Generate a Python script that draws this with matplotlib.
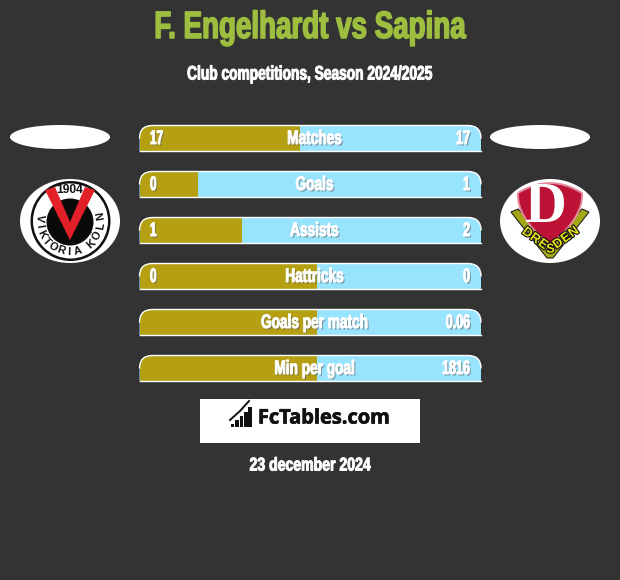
import numpy as np
import matplotlib
matplotlib.use("Agg")
import matplotlib.pyplot as plt
import matplotlib.patheffects as pe
from matplotlib.patches import Ellipse, PathPatch, Polygon, Rectangle, Circle
from matplotlib.path import Path
from matplotlib.transforms import Affine2D

# stats
categories = ["Matches", "Goals", "Assists", "Hattricks", "Goals per match", "Min per goal"]
left_labels = ["17", "0", "1", "0", "", ""]
right_labels = ["17", "1", "2", "0", "0.06", "1816"]
# share of each bar taken by the left player, in percent
left_share = [47, 17, 30, 52, 52, 52]

title = "F. Engelhardt vs Sapina"
subtitle = "Club competitions, Season 2024/2025"
date_label = "23 december 2024"
brand = "FcTables.com"

BG = "#333333"
GOLD = "#b5a014"
BLUE = "#98e4ff"
GREEN = "#9dbe3f"
FONT = "Liberation Sans"


def px(size):
    return size * 0.72


class Condensed(pe.AbstractPathEffect):
    # no condensed face is installed, so squeeze the glyphs around x = anchor
    def __init__(self, anchor, factor, stroke=0.5, shadow=False):
        super().__init__()
        self.anchor = anchor
        self.factor = factor
        self.stroke = stroke
        self.shadow = shadow

    def draw_path(self, renderer, gc, tpath, affine, rgbFace=None):
        squeeze = Affine2D().translate(-self.anchor, 0).scale(self.factor, 1).translate(self.anchor, 0)
        tr = affine + squeeze
        if self.shadow:
            gc0 = renderer.new_gc()
            gc0.copy_properties(gc)
            gc0.set_alpha(0.55)
            gc0.set_linewidth(0)
            renderer.draw_path(gc0, tpath, tr + Affine2D().translate(1.5, -1.5), (0.35, 0.35, 0.35))
            gc0.restore()
        gc1 = renderer.new_gc()
        gc1.copy_properties(gc)
        gc1.set_foreground(rgbFace)
        gc1.set_linewidth(self.stroke)
        renderer.draw_path(gc1, tpath, tr, rgbFace)
        gc1.restore()


def narrow_text(ax, x, y, s, color, size, factor, ha="center", stroke=0.7, shadow=False, zorder=5):
    ax.text(x, y, s, color=color, fontsize=px(size), family=FONT, weight="bold", ha=ha, va="center",
            zorder=zorder, path_effects=[Condensed(x, factor, stroke, shadow)])


def bar_path(x0, x1, y0, y1, r):
    # rounded on the top corners only
    verts = [(x0, y1), (x0, y0 + r), (x0, y0), (x0 + r, y0), (x1 - r, y0),
             (x1, y0), (x1, y0 + r), (x1, y1), (x0, y1)]
    codes = [Path.MOVETO, Path.LINETO, Path.CURVE3, Path.CURVE3, Path.LINETO,
             Path.CURVE3, Path.CURVE3, Path.LINETO, Path.CLOSEPOLY]
    return Path(verts, codes)


def top_edge(x0, x1, y0, r):
    verts = [(x0, y0 + r), (x0, y0), (x0 + r, y0), (x1 - r, y0), (x1, y0), (x1, y0 + r)]
    codes = [Path.MOVETO, Path.CURVE3, Path.CURVE3, Path.LINETO, Path.CURVE3, Path.CURVE3]
    return Path(verts, codes)


def ring_text(ax, s, cx, cy, r, start, end, size, color):
    # letters one by one along the lower arc, angles in degrees
    for ch, a in zip(s, np.linspace(start, end, len(s))):
        t = np.radians(a)
        ax.text(cx + r * np.cos(t), cy + r * np.sin(t), ch, color=color, fontsize=px(size),
                family=FONT, weight="bold", ha="center", va="center",
                rotation=90 - a, zorder=6)


def draw_viktoria(ax, cx, cy):
    ax.add_patch(Ellipse((cx, cy), 100, 84, fc="white", ec="none", zorder=2))
    ax.add_patch(Circle((cx + 0.5, cy), 40, fc="#111111", ec="none", zorder=3))
    ax.add_patch(Circle((cx + 0.5, cy), 37.5, fc="white", ec="none", zorder=3))
    ax.add_patch(Circle((cx, cy + 1), 23.5, fc="#0a0a0a", ec="none", zorder=4))
    ax.add_patch(Polygon([(cx - 25, cy - 31), (cx - 15, cy - 34), (cx, cy + 1), (cx + 15, cy - 34),
                          (cx + 25, cy - 31), (cx, cy + 19)],
                         fc="#e3202a", ec="none", zorder=5))
    ax.text(cx, cy - 31, "1904", color="#111111", fontsize=px(12), family=FONT,
            weight="bold", ha="center", va="center", zorder=6)
    ring_text(ax, "VIKTORIA", cx, cy, 31, 186, 76, 11, "#111111")
    ring_text(ax, "KÖLN", cx, cy, 31, 48, -10, 11, "#111111")


def draw_dresden(ax, cx, cy):
    ax.add_patch(Ellipse((cx, cy), 100, 84, fc="white", ec="none", zorder=2))
    # banner behind the shield
    ax.add_patch(Polygon([(cx - 39, cy - 9), (cx - 32, cy - 12), (cx, cy + 20), (cx + 32, cy - 12),
                          (cx + 39, cy - 9), (cx + 3, cy + 37), (cx - 3, cy + 37)],
                         fc="#a5a814", ec="#222222", lw=0.8, zorder=3))
    shield = Path([(cx - 32, cy - 28), (cx, cy - 48), (cx + 32, cy - 28), (cx + 34, cy - 4),
                   (cx, cy + 24), (cx - 34, cy - 4), (cx - 32, cy - 28)],
                  [Path.MOVETO, Path.CURVE3, Path.CURVE3, Path.CURVE3, Path.CURVE3,
                   Path.CURVE3, Path.CURVE3])
    ax.add_patch(PathPatch(shield, fc="#bb1235", ec="#e58a9c", lw=1.4, zorder=4))
    ax.text(cx - 4, cy - 13, "D", color="white", fontsize=px(58), family="Liberation Serif",
            weight="bold", ha="center", va="center", zorder=5)
    # letters follow the V of the banner
    for ch, dx in zip("DRESDEN", np.linspace(-23, 24, 7)):
        y = cy + 29 - abs(dx) * 0.73
        rot = 0 if abs(dx) < 2 else np.sign(dx) * 36
        ax.text(cx + dx, y, ch, color="#e6e21a", fontsize=px(13), family=FONT,
                weight="bold", ha="center", va="center", rotation=rot, zorder=6,
                path_effects=[pe.withStroke(linewidth=1.6, foreground="#111111")])


def draw_brand(ax):
    ax.add_patch(Rectangle((200, 399), 220, 44, fc="white", ec="none", zorder=2))
    # little rising bars of the logo
    for x, h in zip([230.5, 235, 239.5, 244, 248.3], [3, 7, 11, 15, 20]):
        ax.add_patch(Rectangle((x, 427 - h), 3.7, h, fc="#111111", ec="none", zorder=3))
    ax.plot([230, 240, 249], [420, 411, 401], color="#111111", lw=1.4, zorder=3)
    ax.text(323.5, 418.5, brand, color="#111111", fontsize=px(20), family="Open Sans",
            weight="bold", ha="center", va="center", zorder=3,
            path_effects=[pe.withStroke(linewidth=0.5, foreground="#111111")])


fig = plt.figure(figsize=(6.2, 5.8), dpi=100, facecolor=BG)
ax = fig.add_axes([0, 0, 1, 1])
ax.set_xlim(0, 620)
ax.set_ylim(580, 0)
ax.axis("off")

narrow_text(ax, 310, 28, title, GREEN, 38, 0.73, stroke=1.1)
narrow_text(ax, 309.5, 75, subtitle, "white", 19.5, 0.705)

BAR_X0, BAR_X1 = 139.5, 481
for i, cat in enumerate(categories):
    top = 125.5 + 46 * i
    bottom = top + 25.5
    base = PathPatch(bar_path(BAR_X0, BAR_X1, top, bottom, 13), fc=BLUE, ec="none", zorder=2)
    ax.add_patch(base)
    split = BAR_X0 + (BAR_X1 - BAR_X0) * left_share[i] / 100
    left = Rectangle((BAR_X0, top), split - BAR_X0, 26, fc=GOLD, ec="none", zorder=3)
    ax.add_patch(left)
    left.set_clip_path(base)
    # white only along the top and the bottom, not the sides
    ax.add_patch(PathPatch(top_edge(BAR_X0, BAR_X1, top, 13), fc="none", ec="white", lw=1.0, zorder=4))
    ax.plot([BAR_X0, BAR_X1], [bottom, bottom], color="white", lw=1.0, zorder=4)
    narrow_text(ax, 314.5, top + 14, cat, "white", 19.5, 0.7, shadow=True)
    if left_labels[i]:
        narrow_text(ax, 150, top + 14, left_labels[i], "white", 19.5, 0.6, ha="left", shadow=True)
    narrow_text(ax, 470, top + 14, right_labels[i], "white", 19.5, 0.64, ha="right", shadow=True)

# plain white ovals above the crests
ax.add_patch(Ellipse((60, 137), 100, 24, fc="white", ec="none"))
ax.add_patch(Ellipse((540, 137), 100, 24, fc="white", ec="none"))
draw_viktoria(ax, 70, 221)
draw_dresden(ax, 550, 221)
draw_brand(ax)

narrow_text(ax, 310, 466, date_label, "white", 18.5, 0.76)

fig.savefig("out.png", dpi=100, facecolor=BG)
